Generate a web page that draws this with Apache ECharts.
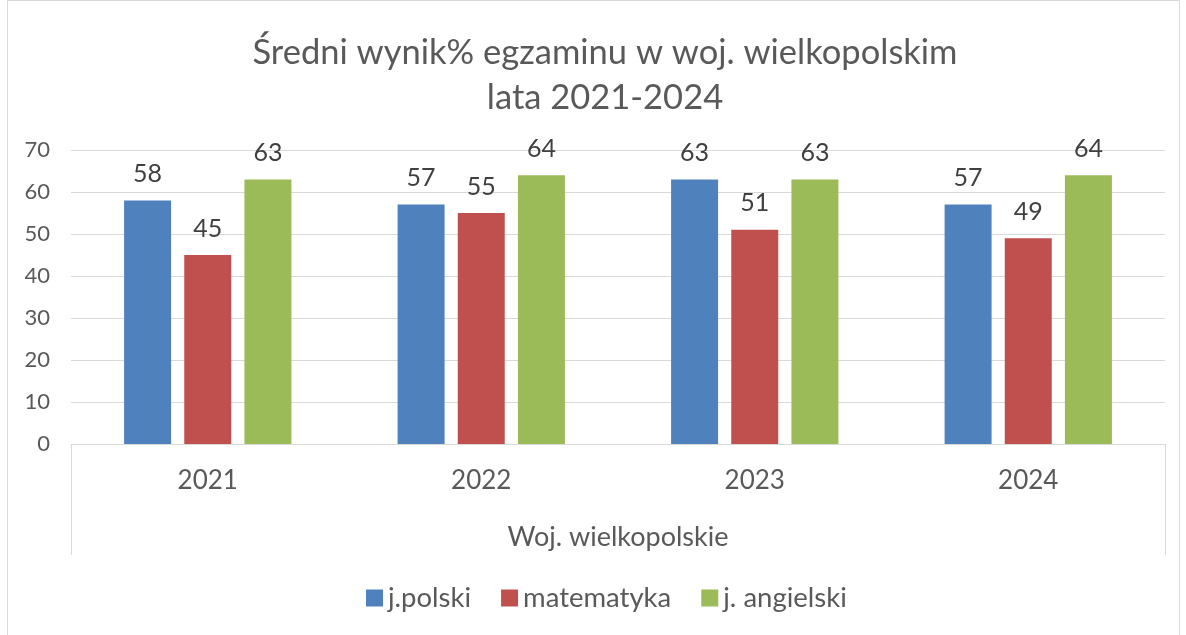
<!DOCTYPE html>
<html>
<head>
<meta charset="utf-8">
<script src="https://cdn.jsdelivr.net/npm/echarts@6/dist/echarts.min.js"></script>
<style>html,body{margin:0;padding:0;background:#fff;}#c{width:1186px;height:635px;}</style>
</head>
<body>
<div id="c"></div>
<script>
const titleText = 'Średni wynik% egzaminu w woj. wielkopolskim\nlata 2021-2024';
const categories = ['2021', '2022', '2023', '2024'];
const groupName = ['Woj. wielkopolskie'];
const seriesNames = ['j.polski', 'matematyka', 'j. angielski'];
const polski = [58, 57, 63, 57];
const matematyka = [45, 55, 51, 49];
const angielski = [63, 64, 63, 64];
const yTicks = [0, 10, 20, 30, 40, 50, 60, 70];

const FONT = 'Lato, "Open Sans", sans-serif';
const colors = ['#4F81BD', '#C0504D', '#9BBB59'];
const chart = echarts.init(document.getElementById('c'), null, {renderer: 'canvas'});

const label = {show: true, position: 'top', distance: 14, fontSize: 25, color: '#404040', fontFamily: FONT};
function bar(name, data, i) {
  return {name, type: 'bar', data, barWidth: 47, barGap: '28%', itemStyle: {color: colors[i]}, label};
}

chart.setOption({
  backgroundColor: '#fff',
  animation: false,
  title: {
    text: titleText, left: 600, top: 25, textAlign: 'center',
    textStyle: {fontSize: 34.5, fontWeight: 'normal', color: '#595959', fontFamily: FONT, lineHeight: 45}
  },
  graphic: [{type: 'rect', shape: {x: 7.5, y: 0.5, width: 1172, height: 640}, style: {fill: 'none', stroke: '#d9d9d9', lineWidth: 1}, silent: true}],
  legend: {
    bottom: 18, left: 361, itemWidth: 17, itemHeight: 17, itemGap: 30, icon: 'rect',
    textStyle: {fontSize: 27.5, color: '#595959', fontFamily: FONT},
    data: seriesNames
  },
  grid: {left: 71, right: 21, top: 150, bottom: 191, containLabel: false},
  xAxis: [{
    type: 'category', data: categories, position: 'bottom',
    axisLine: {show: true, lineStyle: {color: '#d9d9d9', width: 1}},
    axisTick: {show: false},
    axisLabel: {fontSize: 26, color: '#595959', fontFamily: FONT, margin: 24}
  }, {
    type: 'category', data: groupName, position: 'bottom',
    axisLine: {show: false},
    axisTick: {show: true, length: 111, alignWithLabel: false, lineStyle: {color: '#d9d9d9', width: 1}},
    axisLabel: {fontSize: 27, color: '#595959', fontFamily: FONT, margin: 80}
  }],
  yAxis: {
    type: 'value', min: yTicks[0], max: yTicks[yTicks.length - 1], interval: 10,
    axisLine: {show: false}, axisTick: {show: false},
    axisLabel: {fontSize: 22, color: '#595959', fontFamily: FONT, margin: 21},
    splitLine: {lineStyle: {color: '#d9d9d9', width: 1}}
  },
  series: [bar(seriesNames[0], polski, 0), bar(seriesNames[1], matematyka, 1), bar(seriesNames[2], angielski, 2)]
});
</script>
</body>
</html>
